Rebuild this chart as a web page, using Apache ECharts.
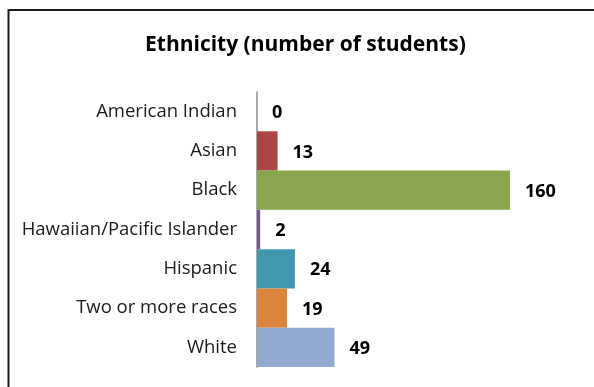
<!DOCTYPE html>
<html>
<head>
<meta charset="utf-8">
<script src="https://cdn.jsdelivr.net/npm/echarts@6/dist/echarts.min.js"></script>
<style>
html,body{margin:0;padding:0;background:#fff;}
#main{width:594px;height:387px;}
</style>
</head>
<body>
<div id="main"></div>
<script>
var categories = ["American Indian", "Asian", "Black", "Hawaiian/Pacific Islander", "Hispanic", "Two or more races", "White"];
var values = [0, 13, 160, 2, 24, 19, 49];
var colors = ["#4F81BD", "#AA4643", "#89A54E", "#71588F", "#4198AF", "#DB843D", "#93A9CF"];
var titleText = "Ethnicity (number of students)";

var chart = echarts.init(document.getElementById('main'));
chart.setOption({
  animation: false,
  backgroundColor: '#fff',
  title: {
    text: titleText,
    left: 145,
    top: 35,
    padding: 0,
    textStyle: {fontFamily: 'Open Sans', fontWeight: 'bold', fontSize: 21, color: '#000'}
  },
  graphic: [{
    type: 'rect',
    shape: {x: 8.5, y: 10, width: 620, height: 420},
    style: {fill: 'none', stroke: '#1a1a1a', lineWidth: 2},
    silent: true
  }],
  grid: {left: 257, top: 92, height: 275, right: 52.4, containLabel: false},
  xAxis: {
    type: 'value', min: 0, max: 180, show: false
  },
  yAxis: {
    type: 'category',
    data: categories,
    inverse: true,
    axisLine: {show: true, lineStyle: {color: '#8c8c8c', width: 1.5}},
    axisTick: {show: false},
    axisLabel: {margin: 20, fontFamily: 'Open Sans', fontSize: 18.5, color: '#1a1a1a'}
  },
  series: [{
    type: 'bar',
    barWidth: '100%',
    data: values.map(function (v, i) { return {value: v, itemStyle: {color: colors[i]}}; }),
    label: {
      show: true, position: 'right', distance: 15, offset: [0, 1.5],
      fontFamily: 'Open Sans', fontWeight: 'bold', fontSize: 18, color: '#000'
    },
    z: 1
  }]
});
</script>
</body>
</html>
